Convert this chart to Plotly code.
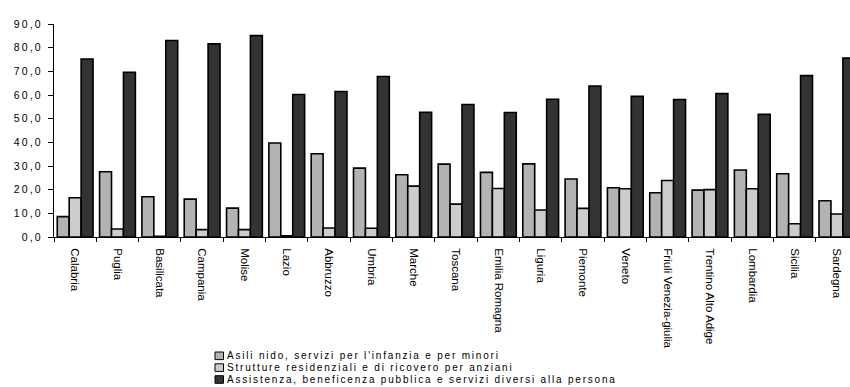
import plotly.graph_objects as go

regioni = ["Calabria", "Puglia", "Basilicata", "Campania", "Molise", "Lazio",
           "Abbruzzo", "Umbria", "Marche", "Toscana", "Emilia Romagna", "Liguria",
           "Piemonte", "Veneto", "Friuli Venezia-giulia", "Trentino Alto Adige",
           "Lombardia", "Sicilia", "Sardegna"]

asili_nido = [8.6, 27.6, 17.0, 16.0, 12.2, 39.7, 35.2, 29.1, 26.3, 30.8,
              27.3, 30.9, 24.5, 20.8, 18.7, 19.8, 28.3, 26.7, 15.3]
strutture_residenziali = [16.6, 3.4, 0.3, 3.1, 3.1, 0.5, 3.8, 3.7, 21.5, 13.9,
                          20.5, 11.4, 12.1, 20.4, 23.9, 20.0, 20.4, 5.6, 9.7]
assistenza = [75.2, 69.6, 83.0, 81.6, 85.1, 60.2, 61.5, 67.8, 52.7, 56.0,
              52.6, 58.2, 63.8, 59.4, 58.1, 60.6, 51.8, 68.2, 75.6]

nomi_serie = ["Asili nido, servizi per l'infanzia e per minori",
              "Strutture residenziali e di ricovero per anziani",
              "Assistenza, beneficenza pubblica e servizi diversi alla persona"]
colori = ["#b3b3b3", "#cccccc", "#333333"]

valori_asse_y = list(range(0, 91, 10))
etichette_asse_y = [f"{v:.1f}".replace(".", ",") for v in valori_asse_y]

W, H = 850, 387
L, R, T, B = 54, 0, 24, 150
plot_w = W - L - R
plot_h = H - T - B
cat_w = 42.32


def spaziato(testo, ls):
    return f'<span style="letter-spacing:{ls}px">{testo}</span>'


fig = go.Figure()
for nome, valori, col in zip(nomi_serie,
                             [asili_nido, strutture_residenziali, assistenza],
                             colori):
    fig.add_trace(go.Bar(
        x=regioni, y=valori, name=nome,
        marker=dict(color=col, line=dict(color="#000000", width=1.6)),
        showlegend=False,
    ))

fig.update_layout(
    width=W, height=H,
    margin=dict(l=L, r=R, t=T, b=B, pad=0),
    paper_bgcolor="white", plot_bgcolor="white",
    barmode="group", bargap=0.154, bargroupgap=0,
    font=dict(family="Liberation Sans, Arial", color="black"),
)

fig.update_xaxes(
    range=[-0.5, -0.5 + plot_w / cat_w],
    showline=True, linecolor="black", linewidth=1,
    ticks="outside", tickson="boundaries", ticklen=4, tickcolor="black",
    tickangle=90, ticklabelstandoff=8,
    tickfont=dict(family="Liberation Sans, Arial", size=11.5),
    showgrid=False, zeroline=False,
)
fig.update_yaxes(
    range=[0, 90],
    tickmode="array", tickvals=valori_asse_y,
    ticktext=[spaziato(t, 2.2) for t in etichette_asse_y],
    showline=True, linecolor="black", linewidth=1,
    ticks="outside", ticklen=5, tickcolor="black", ticklabelstandoff=3,
    tickfont=dict(family="Liberation Sans, Arial", size=10.5),
    showgrid=False, zeroline=False,
)

# Custom legend: swatch squares and labels stacked under the chart
legend_x0, legend_x1 = 215, 223.5
legend_rows = [355.8, 367.6, 379.5]
for nome, col, cy in zip(nomi_serie, colori, legend_rows):
    fig.add_shape(
        type="rect", xref="paper", yref="paper",
        x0=(legend_x0 - L) / plot_w, x1=(legend_x1 - L) / plot_w,
        y0=(H - B - (cy + 3.8)) / plot_h, y1=(H - B - (cy - 3.8)) / plot_h,
        fillcolor=col, line=dict(color="black", width=1),
    )
    fig.add_annotation(
        x=(225 - L) / plot_w, y=(H - B - cy) / plot_h,
        xref="paper", yref="paper", xanchor="left", yanchor="middle",
        text=spaziato(nome, 1.8), showarrow=False,
        font=dict(family="Liberation Sans, Arial", size=10, color="black"),
    )

fig.write_html("out.html")
